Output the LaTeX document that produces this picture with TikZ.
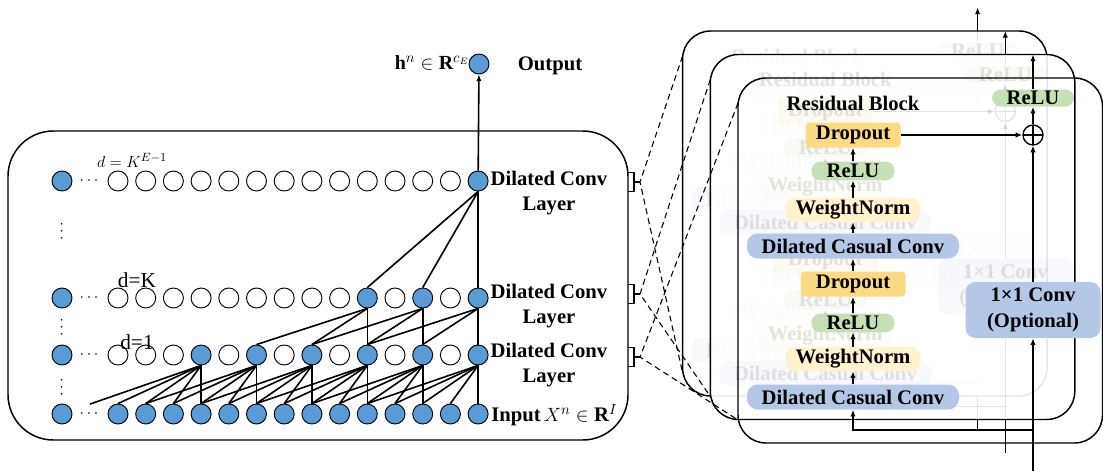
\documentclass[tikz,border=0pt]{standalone}
\usepackage{fontspec}
\setmainfont{Liberation Serif}
\usetikzlibrary{positioning,arrows.meta}
\definecolor{cellblue}{HTML}{5B9BD5}
\definecolor{dropc}{HTML}{FADB84}
\definecolor{reluc}{HTML}{C5E0B4}
\definecolor{wnc}{HTML}{FFF2CC}
\definecolor{convc}{HTML}{B4C7E7}

\begin{document}
\begin{tikzpicture}[x=0.75pt,y=-0.75pt,>={Latex[length=5pt,width=4pt]}]
  \tikzstyle{cell}=[draw,circle,minimum size=15pt,inner sep=0pt,line width=0.7pt]
  \tikzstyle{cellon}=[cell,fill=cellblue]
  \tikzstyle{conv}=[line width=1.2pt]
  \tikzstyle{lbl}=[font=\fontsize{15.5}{19}\selectfont\bfseries,align=center]
  \tikzstyle{op}=[font=\fontsize{15.5}{19}\selectfont\bfseries,inner sep=0pt,minimum height=18.75pt]
  \tikzstyle{drop}=[op,fill=dropc,rounded corners=3pt]
  \tikzstyle{relu}=[op,fill=reluc,rounded corners=6.5pt,minimum width=62.25pt,minimum height=13.9pt]
  \tikzstyle{wn}=[op,fill=wnc,rounded corners=7pt,minimum width=101.25pt,minimum height=18pt]
  \tikzstyle{dcc}=[op,fill=convc,rounded corners=8pt,minimum width=159pt]
  \tikzstyle{skipbox}=[op,fill=convc,rounded corners=7.5pt,minimum width=101.25pt,minimum height=42pt,align=center]
  \tikzstyle{plus}=[draw,circle,line width=1pt,minimum size=15pt,inner sep=0pt,
    path picture={\draw[line width=1pt] (path picture bounding box.north) -- (path picture bounding box.south)
      (path picture bounding box.west) -- (path picture bounding box.east);}]
  \tikzstyle{blk}=[draw,line width=1.1pt,rounded corners=21pt]
  \tikzstyle{flow}=[->,line width=1.2pt]
  \tikzstyle{link}=[dashed,dash pattern=on 4.5pt off 3pt,line width=0.8pt]

  \useasboundingbox (0,0) rectangle (1103,471);

  \draw[line width=1.1pt,rounded corners=34pt] (8,131) rectangle (628,440);

  \foreach \i in {0,...,13} \node[cellon] (in\i) at (118+27.7*\i,414) {};
  \node[inner sep=0pt] (in-1) at (90,405) {};
  \foreach \i in {0,1,2,4,6,8,10,12} \node[cell] (one\i) at (118+27.7*\i,355) {};
  \foreach \i in {3,5,...,13} \node[cellon] (one\i) at (118+27.7*\i,355) {};
  \foreach \i in {0,1,2,3,4,5,6,7,8,10,12} \node[cell] (k\i) at (118+27.7*\i,298) {};
  \foreach \i in {9,11,13} \node[cellon] (k\i) at (118+27.7*\i,298) {};
  \foreach \i in {0,...,12} \node[cell] (top\i) at (118+27.7*\i,181) {};
  \node[cellon] (top13) at (118+27.7*13,181) {};
  \foreach \r/\y in {in/414,one/355,k/298,top/181} {
    \node[cellon] (\r L) at (62,\y) {};
    \node[font=\fontsize{12}{14}\selectfont] (\r dots) at (89,\y) {$\cdots$};
  }
  \foreach \y in {231,327,387}
    \node[rotate=90,font=\fontsize{12}{14}\selectfont] (vd\y) at (62,\y) {$\cdots$};

  \foreach \c in {3,5,...,13}
    \foreach \k in {0,...,4} {
      \pgfmathtruncatemacro\j{\c-\k}
      \draw[conv] (one\c.south) -- (in\j.north);
    }
  \foreach \c in {9,11,13}
    \foreach \k in {0,2,4} {
      \pgfmathtruncatemacro\j{\c-\k}
      \draw[conv] (k\c.south) -- (one\j.north);
    }
  \foreach \j in {9,11,13} \draw[conv] (top13.south) -- (k\j.north);
  \node[cellon] (out) at (479,64) {};
  \draw[conv,->] (top13) -- (out);

  \node[lbl] (lay3) at (549,193) {Dilated Conv\\Layer};
  \node[lbl] (lay2) at (549,306) {Dilated Conv\\Layer};
  \node[lbl] (lay1) at (549,365) {Dilated Conv\\Layer};
  \node[lbl,anchor=west,inner sep=0pt] (inlbl) at (491,415) {Input\,$X^n\in\mathbf{R}^I$};
  \node[lbl] (outlbl) at (550,66) {Output};
  \node[font=\fontsize{15}{17}\selectfont] (hlbl) at (432,63) {$\mathbf{h}^n\in\mathbf{R}^{c_E}$};
  \node[font=\fontsize{13}{15}\selectfont] (dE) at (132,160) {$d=K^{E-1}$};
  \node[font=\fontsize{16}{18}\selectfont] (dK) at (137,280) {d=K};
  \node[font=\fontsize{16}{18}\selectfont] (d1) at (137,342) {d=1};

  \foreach \y/\n in {182/3,294/2,357/1} {
    \draw[line width=0.8pt] (628,\y-9.5) -- (634,\y-9.5) -- (634,\y+9.5) -- (628,\y+9.5);
    \coordinate (tk\n) at (640,\y);
    \draw[line width=0.8pt] (634,\y) -- (tk\n);
  }

  \foreach \b/\op/\fo in {2/0.1/0,1/0.1/0.9,0/1/0} {
    \begin{scope}[shift={(-27.7*\b,-23.5*\b)}]
      \draw[blk,fill=white,fill opacity=\fo] (738,78) rectangle (1102.5,443);
      \coordinate (ul\b) at (738,103);
      \coordinate (ll\b) at (738,420);
      \coordinate (tp\b) at (1033,78);
      \coordinate (nx\b) at (1033,54.5);
      \coordinate (bt\b) at (1033,443);
      \coordinate (src\b) at (1033,476);
      \coordinate (br\b) at (1033,430);
      \draw[flow] (tp\b) -- (nx\b);
      \draw[line width=1.2pt] (src\b) -- (bt\b);
      \begin{scope}[opacity=\op]
        \node[lbl] (title\b) at (853,103) {Residual Block};
        \node[dcc] (dcca\b) at (853,397) {Dilated Casual Conv};
        \node[wn] (wna\b) at (853,359) {WeightNorm};
        \node[relu] (relua\b) at (853,323) {ReLU};
        \node[drop,minimum width=78.75pt] (dropa\b) at (853,284) {Dropout};
        \node[dcc] (dccb\b) at (853,246) {Dilated Casual Conv};
        \node[wn] (wnb\b) at (853,210) {WeightNorm};
        \node[relu] (relub\b) at (853,171) {ReLU};
        \node[drop,minimum width=71.25pt] (dropb\b) at (853,135) {Dropout};
        \node[skipbox] (skip\b) at (1033,310) {1×1 Conv\\(Optional)};
        \node[plus] (add\b) at (1033,135) {};
        \node[relu,minimum width=61.5pt,minimum height=12.75pt] (reluo\b) at (1033,98) {ReLU};
        \foreach \p/\q in {dcca/wna,wna/relua,relua/dropa,dropa/dccb,dccb/wnb,wnb/relub,relub/dropb}
          \draw[flow] (\p\b) -- (\q\b);
        \draw[flow] (dropb\b) -- (add\b);
        \draw[flow] (add\b) -- (reluo\b);
        \draw[flow] (skip\b) -- (add\b);
        \draw[line width=1.2pt] (reluo\b) -- (tp\b);
        \draw[flow] (bt\b) -- (skip\b);
        \draw[flow] (br\b) -| (dcca\b);
      \end{scope}
    \end{scope}
  }

  \draw[link] (ul2) -- (tk3) -- (ll2);
  \draw[link] (ul1) -- (tk2) -- (ll1);
  \draw[link] (ul0) -- (tk1) -- (ll0);
\end{tikzpicture}
\end{document}
